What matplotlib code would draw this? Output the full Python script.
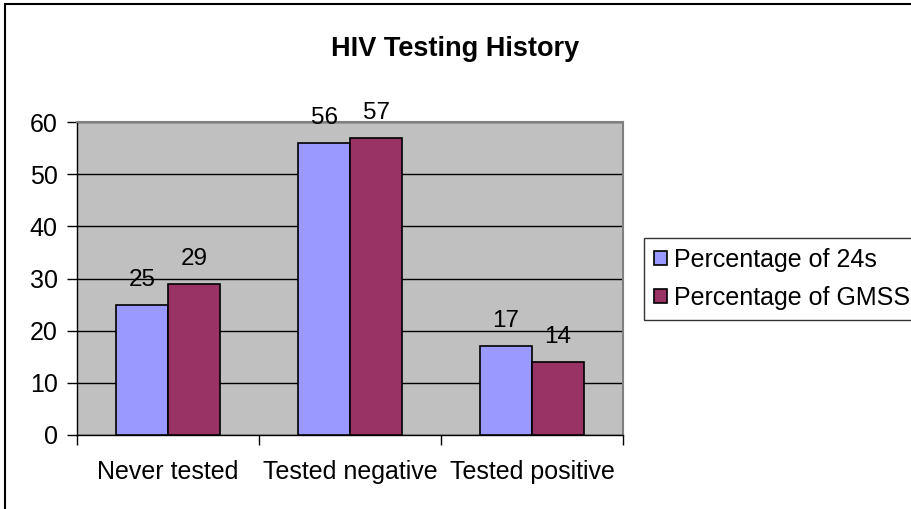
import numpy as np
import matplotlib.pyplot as plt
from matplotlib.patches import Rectangle

# chart data
categories = ["Never tested", "Tested negative", "Tested positive"]
pct_24s = [25, 56, 17]
pct_gmss = [29, 57, 14]
series_names = ["Percentage of 24s", "Percentage of GMSS"]
y_ticks = [0, 10, 20, 30, 40, 50, 60]

plt.rcParams['font.family'] = ['Liberation Sans', 'DejaVu Sans']

fig = plt.figure(figsize=(9.11, 5.09), dpi=100)
fig.patch.set_facecolor('white')

# outer chart border (cropped on right/bottom in the original)
fig.add_artist(Rectangle((5 / 911, -0.1), 1.2, 1.1 - 4 / 509,
                         transform=fig.transFigure, fill=False,
                         edgecolor='black', linewidth=1.5))

ax = fig.add_axes([77 / 911, 1 - 435 / 509, (623 - 77) / 911, (435 - 122) / 509])
ax.set_facecolor('#C0C0C0')

x = np.arange(len(categories))
w = 1 / 3.5
b1 = ax.bar(x - w / 2, pct_24s, w, color='#9999FF', edgecolor='black', linewidth=1.2, zorder=3)
b2 = ax.bar(x + w / 2, pct_gmss, w, color='#993366', edgecolor='black', linewidth=1.2, zorder=3)

for bars in (b1, b2):
    for r in bars:
        ax.annotate(f"{r.get_height():g}", (r.get_x() + r.get_width() / 2, r.get_height()),
                    xytext=(0, 10), textcoords='offset points',
                    ha='center', va='bottom', fontsize=17.5)

ax.set_xlim(-0.5, len(categories) - 0.5)
ax.set_ylim(0, 60)
ax.set_yticks(y_ticks)
ax.yaxis.grid(True, color='black', linewidth=1.0, zorder=1)
ax.set_axisbelow(True)

ax.set_xticks(np.arange(len(categories) + 1) - 0.5)
ax.set_xticklabels([])
ax.set_xticks(x, minor=True)
ax.set_xticklabels(categories, minor=True)
ax.tick_params(axis='x', which='minor', length=0, pad=18, labelsize=18)
ax.tick_params(axis='x', which='major', length=7, width=1, direction='out')
ax.tick_params(axis='y', length=7, width=1, direction='out', pad=7, labelsize=18)

for side in ('top', 'right'):
    ax.spines[side].set_color('#808080')
    ax.spines[side].set_linewidth(1.5)
for side in ('left', 'bottom'):
    ax.spines[side].set_color('black')
    ax.spines[side].set_linewidth(1.0)

fig.text(455 / 911, 1 - 49 / 509, "HIV Testing History", ha='center', va='center',
         fontsize=19.5, fontweight='bold')

leg = ax.legend([b1, b2], series_names, loc='upper left',
                bbox_to_anchor=(644 / 911, 1 - 238 / 509), bbox_transform=fig.transFigure,
                fontsize=18, frameon=True, fancybox=False, borderpad=0.4,
                handlelength=0.5, handleheight=0.5, handletextpad=0.3,
                labelspacing=0.55, borderaxespad=0)
leg.get_frame().set_edgecolor('black')
leg.get_frame().set_linewidth(1.0)

fig.savefig("out.png", dpi=100)
